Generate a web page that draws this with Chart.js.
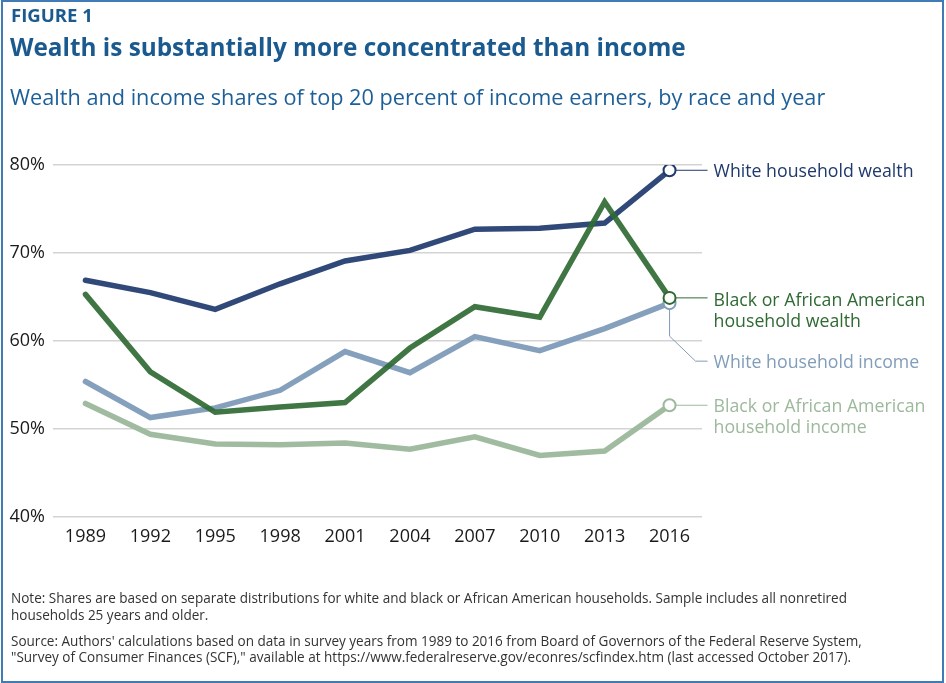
<!DOCTYPE html>
<html>
<head>
<meta charset="utf-8">
<script src="https://cdn.jsdelivr.net/npm/chart.js@4.4.0/dist/chart.umd.min.js"></script>
<style>
html,body{margin:0;padding:0;background:#fff;}
#page{position:relative;width:946px;height:683px;overflow:hidden;font-family:"Open Sans",sans-serif;background:#fff;}
#frame{position:absolute;left:1px;top:0;width:943px;height:683px;border:2px solid #3f7bb4;box-sizing:border-box;pointer-events:none;z-index:5;}
#chartBox{position:absolute;left:0;top:0;width:946px;height:683px;}
.t{position:absolute;white-space:nowrap;line-height:1;}
#fig{left:11px;font-weight:700;color:#1b5a8e;}
#title{left:10px;font-weight:700;color:#1b5a8e;}
#sub{left:10px;font-weight:400;color:#1d5f98;}
.note{left:11px;font-weight:400;color:#333;}
</style>
</head>
<body>
<div id="page">
  <div id="chartBox"><canvas id="c"></canvas></div>
  <div class="t" id="fig">FIGURE 1</div>
  <div class="t" id="title">Wealth is substantially more concentrated than income</div>
  <div class="t" id="sub">Wealth and income shares of top 20 percent of income earners, by race and year</div>
  <div class="t note" id="n1">Note: Shares are based on separate distributions for white and black or African American households. Sample includes all nonretired</div>
  <div class="t note" id="n2">households 25 years and older.</div>
  <div class="t note" id="s1">Source: Authors' calculations based on data in survey years from 1989 to 2016 from Board of Governors of the Federal Reserve System,</div>
  <div class="t note" id="s2">"Survey of Consumer Finances (SCF)," available at https://www.federalreserve.gov/econres/scfindex.htm (last accessed October 2017).</div>
  <div id="frame"></div>
</div>
<script>
// ---- Data ----
const years = ['1989','1992','1995','1998','2001','2004','2007','2010','2013','2016'];
const whiteWealth = [66.9, 65.5, 63.6, 66.5, 69.1, 70.3, 72.7, 72.8, 73.4, 79.4];
const blackWealth = [65.3, 56.5, 51.9, 52.5, 53.0, 59.2, 63.9, 62.7, 75.8, 64.9];
const whiteIncome = [55.4, 51.3, 52.4, 54.4, 58.8, 56.4, 60.5, 58.9, 61.4, 64.3];
const blackIncome = [52.9, 49.4, 48.3, 48.2, 48.4, 47.7, 49.1, 47.0, 47.5, 52.7];
const yTicks = [40, 50, 60, 70, 80];
const seriesNames = ['Black or African American household wealth', 'White household wealth', 'White household income', 'Black or African American household income'];

// ---- Text fitting (HTML) ----
function fitEl(id, target, base, baseline){
  const el = document.getElementById(id);
  el.style.fontSize = base + 'px';
  const w = el.getBoundingClientRect().width;
  const fs = base * target / w;
  el.style.fontSize = fs + 'px';
  el.style.top = (baseline - 0.888 * fs) + 'px';
  return fs;
}
function placeEl(id, fs, baseline){
  const el = document.getElementById(id);
  el.style.fontSize = fs + 'px';
  el.style.top = (baseline - 0.888 * fs) + 'px';
}
fitEl('fig', 82, 17, 23);
fitEl('title', 676, 26, 57);
fitEl('sub', 816, 22, 105.5);
const nfs = fitEl('n1', 837, 14, 604.3);
placeEl('n2', nfs, 621);
placeEl('s1', nfs, 646.7);
placeEl('s2', nfs, 663);

// ---- Styles ----
const colNavy = '#1e396c', colGreen = '#2f6a33', colLBlue = '#809dba', colLGreen = '#9db99c';
const lineCols = ['rgba(47,106,51,0.92)', 'rgba(30,57,108,0.92)', 'rgba(128,157,186,0.97)', 'rgba(157,185,156,0.97)'];
const textCols = [colGreen, colNavy, colLBlue, colLGreen];
const last = years.length - 1;

// label layout per dataset (offsets from end point)
const labelLayout = [
  {lines:['Black or African American','household wealth'], dy:1.3, path:'h'},
  {lines:['White household wealth'], dy:0, path:'h'},
  {lines:['White household income'], dy:58, path:'bend'},
  {lines:['Black or African American','household income'], dy:-0.7, path:'h'}
];

const endLabels = {
  id:'endLabels',
  beforeDatasetsDraw(chart){
    const ctx = chart.ctx;
    ctx.save();
    chart.data.datasets.forEach((ds, i) => {
      const meta = chart.getDatasetMeta(i);
      const pt = meta.data[last];
      const px = pt.x, py = pt.y;
      const L = labelLayout[i];
      ctx.strokeStyle = textCols[i];
      ctx.lineWidth = 1;
      ctx.beginPath();
      if (L.path === 'h') {
        ctx.moveTo(px, py); ctx.lineTo(px + 38, py);
      } else {
        ctx.moveTo(px, py); ctx.lineTo(px, py + 33);
        ctx.lineTo(px + 26, py + L.dy); ctx.lineTo(px + 38, py + L.dy);
      }
      ctx.stroke();
    });
    ctx.restore();
  },
  afterDatasetsDraw(chart){
    const ctx = chart.ctx;
    ctx.save();
    ctx.textBaseline = 'middle';
    ctx.textAlign = 'left';
    ctx.font = '20px "Open Sans"';
    const fs = 20 * 200 / ctx.measureText('White household wealth').width;
    ctx.font = fs + 'px "Open Sans"';
    chart.data.datasets.forEach((ds, i) => {
      const pt = chart.getDatasetMeta(i).data[last];
      const L = labelLayout[i];
      ctx.fillStyle = textCols[i];
      L.lines.forEach((ln, k) => {
        ctx.fillText(ln, pt.x + 44, pt.y + L.dy + 2 + k * 21);
      });
    });
    ctx.restore();
  }
};

const dataSeries = [blackWealth, whiteWealth, whiteIncome, blackIncome];

new Chart(document.getElementById('c'), {
  type: 'line',
  data: {
    labels: years,
    datasets: dataSeries.map((d, i) => ({
      label: seriesNames[i],
      data: d,
      borderColor: lineCols[i],
      borderWidth: 5.5,
      tension: 0,
      borderCapStyle: 'round',
      borderJoinStyle: 'miter',
      fill: false,
      pointRadius: ctx => ctx.dataIndex === last ? 6 : 0,
      pointHoverRadius: ctx => ctx.dataIndex === last ? 6 : 0,
      pointBackgroundColor: '#ffffff',
      pointBorderColor: textCols[i],
      pointBorderWidth: 2
    }))
  },
  options: {
    responsive: true,
    maintainAspectRatio: false,
    animation: false,
    events: [],
    layout: { padding: { top: 165, right: 244, bottom: 126, left: 0 } },
    plugins: { legend: { display: false }, tooltip: { enabled: false } },
    scales: {
      x: {
        type: 'category',
        offset: true,
        grid: { display: false, drawTicks: false },
        border: { display: false },
        ticks: { color: '#1a1a1a', font: { family: '"Open Sans"', size: 18 }, padding: 9, maxRotation: 0, autoSkip: false },
        afterFit: s => { s.height = 40; }
      },
      y: {
        min: 40, max: 80,
        afterBuildTicks: s => { s.ticks = yTicks.map(v => ({ value: v })); },
        grid: { color: '#d3d3d3', lineWidth: 1.5, drawTicks: false },
        border: { display: false },
        ticks: { color: '#1a1a1a', font: { family: '"Open Sans"', size: 18 }, padding: 8, callback: v => v + '%' },
        afterFit: s => { s.width = 53; }
      }
    }
  },
  plugins: [endLabels]
});
</script>
</body>
</html>
